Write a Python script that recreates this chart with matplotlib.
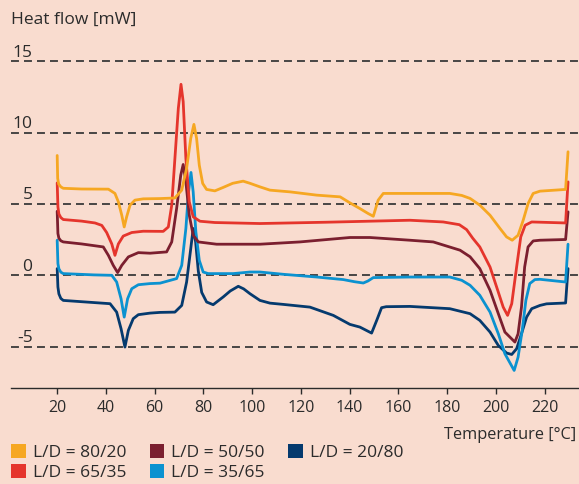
import matplotlib
matplotlib.use("Agg")
import matplotlib.pyplot as plt
from matplotlib.patches import Patch

plt.rcParams['font.family'] = ['Open Sans', 'DejaVu Sans']

# DSC curves (temperature in °C, heat flow in mW)
t_8020 = [20.0, 20.2, 20.6, 21.5, 22.5, 30.0, 41.0, 43.7, 45.1, 46.5, 47.5, 48.5, 49.9, 51.9,
          55.3, 62.2, 68.3, 71.1, 73.1, 74.8, 76.1, 77.2, 78.3, 79.7, 81.3, 84.7, 88.1,
          92.0, 96.3, 99.1, 103.2, 107.3, 115.5, 126.5, 136.1, 140.1, 144.2, 147.6, 149.7,
          151.7, 153.8, 164.7, 181.1, 186.0, 189.4, 193.4, 197.6, 201.7, 204.4, 206.7,
          209.1, 211.2, 213.2, 215.3, 218.1, 228.6, 229.6]
v_8020 = [8.4, 6.8, 6.4, 6.2, 6.1, 6.05, 6.04, 5.74, 5.15, 4.21, 3.39, 4.1, 4.92, 5.27,
          5.36, 5.38, 5.42, 5.97, 7.49, 9.6, 10.58, 9.6, 7.72, 6.44, 6.02, 5.92, 6.16,
          6.45, 6.6, 6.45, 6.2, 5.97, 5.85, 5.62, 5.5, 5.08, 4.68, 4.33, 4.14,
          5.27, 5.74, 5.74, 5.74, 5.6, 5.39, 4.92, 4.21, 3.28, 2.69, 2.46,
          2.81, 3.86, 5.03, 5.74, 5.9, 6.02, 8.66]

t_6535 = [20.0, 20.3, 20.7, 21.5, 22.5, 30.0, 35.5, 38.3, 40.3, 42.4, 43.7, 45.1, 47.1, 50.6,
          55.3, 63.5, 65.6, 67.0, 68.3, 69.7, 70.8, 71.7, 72.8, 74.2, 75.8, 78.6, 84.7,
          103.2, 130.0, 164.7, 178.4, 185.0, 188.0, 190.5, 193.4, 197.6, 200.3, 203.0,
          204.8, 206.5, 208.5, 210.2, 212.0, 214.7, 228.6, 229.6]
v_6535 = [6.48, 4.8, 4.3, 4.05, 3.91, 3.8, 3.67, 3.5, 3.0, 2.2, 1.40, 2.2, 2.75, 3.0,
          3.09, 3.08, 3.39, 4.92, 8.19, 11.7, 13.39, 12.17, 8.19, 5.15, 4.1, 3.79, 3.7,
          3.63, 3.72, 3.86, 3.74, 3.55, 3.2, 2.6, 1.99, 0.58, -0.82, -2.23,
          -2.81, -1.99, 0.58, 2.69, 3.51, 3.74, 3.67, 6.55]

t_5050 = [20.0, 20.3, 20.7, 21.5, 22.5, 30.0, 38.9, 41.0, 43.0, 44.8, 46.5, 49.2, 53.3, 58.1,
          64.9, 67.0, 69.0, 70.7, 71.7, 72.8, 74.2, 75.8, 77.9, 85.4, 103.2, 119.6, 140.1,
          148.3, 164.7, 174.3, 185.3, 189.4, 193.4, 197.6, 201.0, 203.7, 207.8, 209.1,
          210.5, 211.8, 213.2, 215.3, 218.1, 228.6, 229.6]
v_5050 = [4.49, 2.93, 2.6, 2.42, 2.34, 2.2, 1.99, 1.4, 0.70, 0.19, 0.70, 1.29, 1.59, 1.55,
          1.64, 2.34, 4.68, 7.02, 7.77, 6.55, 4.21, 2.81, 2.34, 2.18, 2.18, 2.34, 2.65,
          2.65, 2.46, 2.34, 1.76, 1.3, 0.47, -1.05, -2.69, -3.98, -4.68, -4.1,
          -2.23, 0.58, 1.99, 2.41, 2.46, 2.51, 4.45]

t_3565 = [20.0, 20.3, 20.7, 21.5, 22.5, 35.0, 42.4, 44.4, 46.2, 47.5, 48.9, 50.6, 53.3, 58.1,
          62.2, 69.0, 71.1, 72.8, 73.9, 74.9, 75.8, 76.9, 78.3, 79.9, 82.0, 92.2, 99.1,
          103.2, 112.8, 126.5, 137.4, 142.0, 145.6, 147.5, 149.7, 164.7, 181.1, 186.0,
          189.4, 193.4, 197.6, 201.0, 203.7, 207.5, 209.1, 210.8, 212.3, 213.9, 216.0,
          218.1, 228.6, 229.6]
v_3565 = [2.46, 0.82, 0.45, 0.22, 0.12, 0.03, 0.0, -0.47, -1.64, -2.93, -1.64, -0.94, -0.66, -0.58,
          -0.55, -0.23, 0.70, 3.28, 5.85, 7.21, 5.85, 3.04, 1.05, 0.23, 0.12, 0.12, 0.23,
          0.23, 0.07, -0.12, -0.30, -0.45, -0.54, -0.4, -0.16, -0.12, -0.12, -0.35,
          -0.70, -1.40, -2.58, -4.1, -5.5, -6.67, -5.74, -3.86, -1.76, -0.58, -0.30,
          -0.28, -0.47, 2.18]

t_2080 = [20.0, 20.3, 20.7, 21.5, 22.5, 30.0, 41.7, 44.4, 46.2, 47.8, 49.2, 51.2, 53.3, 58.1,
          62.2, 68.3, 71.1, 73.1, 74.8, 75.8, 76.8, 77.9, 79.3, 81.3, 84.0, 88.1, 91.0,
          94.3, 96.5, 99.1, 103.2, 107.3, 112.8, 123.7, 133.3, 140.1, 144.2, 149.0, 151.1,
          153.1, 155.0, 164.7, 181.1, 189.4, 193.4, 197.6, 201.0, 204.4, 206.5, 208.5,
          210.5, 212.6, 214.7, 218.1, 220.8, 228.6, 229.6]
v_2080 = [0.47, -0.82, -1.3, -1.62, -1.76, -1.85, -1.99, -2.58, -3.74, -5.03, -3.86, -3.04, -2.76, -2.65,
          -2.6, -2.58, -2.11, -0.47, 1.87, 3.28, 2.34, 0.3, -1.2, -1.87, -2.06, -1.52, -1.1,
          -0.77, -0.95, -1.29, -1.76, -1.95, -2.04, -2.23, -2.81, -3.44, -3.63, -4.05, -3.16,
          -2.27, -2.2, -2.18, -2.34, -2.69, -3.16, -3.98, -4.92, -5.45, -5.55, -5.15,
          -4.1, -2.93, -2.34, -2.11, -2.0, -1.94, 0.47]

labels = ['L/D = 80/20', 'L/D = 65/35', 'L/D = 50/50', 'L/D = 35/65', 'L/D = 20/80']
colors = ['#f6a722', '#e5352c', '#7b1f2f', '#0b92d0', '#053a6e']
curves = [(t_8020, v_8020), (t_6535, v_6535), (t_5050, v_5050), (t_3565, v_3565), (t_2080, v_2080)]

y_ticks = [15, 10, 5, 0, -5]
x_ticks = list(range(20, 221, 20))

bg = '#f9dccf'
ink = '#2b2b2b'
fig = plt.figure(figsize=(5.79, 4.84), dpi=100, facecolor=bg)
ax = fig.add_axes([11 / 579, 96 / 484, 568 / 579, 388 / 484])
ax.set_facecolor(bg)

for yv in y_ticks:
    ax.axhline(yv, color='#3a3a3a', lw=1.3, ls=(0, (4.4, 2.8)), zorder=1)
    ax.text(9.9, yv + 0.6, str(yv), ha='right', va='center', fontsize=12.5, color=ink)

# draw in reverse so the upper curves sit on top
for (t, v), c in reversed(list(zip(curves, colors))):
    ax.plot(t, v, color=c, lw=2.0, solid_joinstyle='round', solid_capstyle='round', zorder=3)

ax.set_xlim(1.05, 234.1)
ax.set_ylim(-7.9, 19.3)
for s in ['top', 'right', 'left']:
    ax.spines[s].set_visible(False)
ax.spines['bottom'].set_color(ink)
ax.spines['bottom'].set_linewidth(1.0)
ax.set_yticks([])
ax.set_xticks(x_ticks)
ax.tick_params(axis='x', direction='out', length=4.5, width=1.0, color=ink,
               labelsize=11.5, labelcolor=ink, pad=4)

fig.text(11 / 579, 1 - 20 / 484, 'Heat flow [mW]', ha='left', va='center', fontsize=12.5, color=ink)
fig.text(576 / 579, 1 - 435 / 484, 'Temperature [°C]', ha='right', va='center', fontsize=11.8, color=ink)

handles = [Patch(facecolor=c, edgecolor='none') for c in colors]
fig.legend(handles, labels, ncol=3, loc='upper left', bbox_to_anchor=(11 / 579, 1 - 444 / 484),
           frameon=False, fontsize=12.5, handlelength=0.85, handleheight=0.85, handletextpad=0.4,
           columnspacing=1.35, labelspacing=0.2, borderaxespad=0, borderpad=0,
           labelcolor=ink)

fig.savefig('out.png', dpi=100, facecolor=bg)
